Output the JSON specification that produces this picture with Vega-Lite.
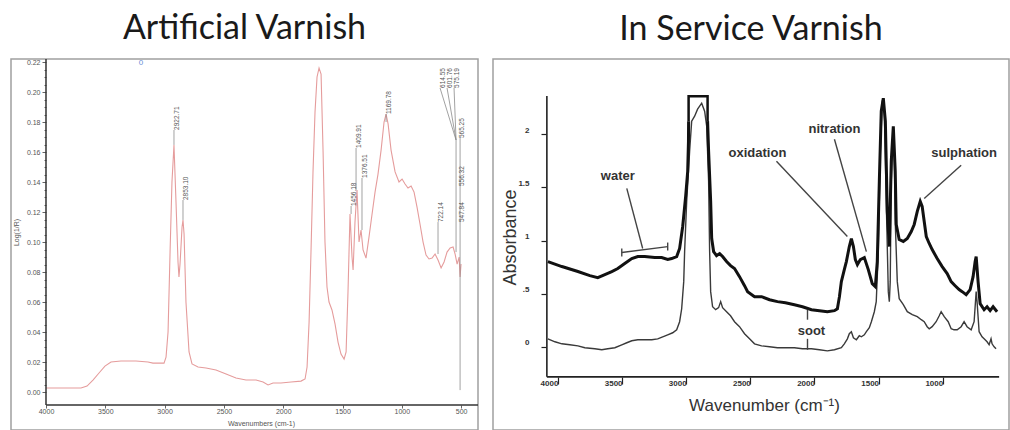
{
"$schema": "https://vega.github.io/schema/vega-lite/v6.json",
"padding": {"left": 10, "top": 11, "right": 5, "bottom": 2},
"config": {"view": {"stroke": "#a0a0a0", "strokeWidth": 1.5}, "concat": {"spacing": 12}, "font": "Liberation Sans", "axis": {"labelOverlap": false, "labelSeparation": 0}},
"datasets": {
"leftSpec": [{"w":4000,"v":0.0027},{"w":3874,"v":0.0027},{"w":3705,"v":0.0027},{"w":3654,"v":0.004},{"w":3604,"v":0.008},{"w":3553,"v":0.0127},{"w":3503,"v":0.0173},{"w":3452,"v":0.02},{"w":3368,"v":0.0207},{"w":3241,"v":0.0207},{"w":3140,"v":0.02},{"w":3098,"v":0.0193},{"w":3005,"v":0.0193},{"w":2988,"v":0.0233},{"w":2971,"v":0.04},{"w":2954,"v":0.0933},{"w":2938,"v":0.14},{"w":2921,"v":0.1647},{"w":2904,"v":0.1267},{"w":2887,"v":0.0867},{"w":2879,"v":0.0767},{"w":2870,"v":0.0853},{"w":2853,"v":0.11},{"w":2845,"v":0.1147},{"w":2836,"v":0.1053},{"w":2820,"v":0.06},{"w":2794,"v":0.0267},{"w":2769,"v":0.0187},{"w":2718,"v":0.0167},{"w":2651,"v":0.016},{"w":2567,"v":0.0147},{"w":2482,"v":0.012},{"w":2398,"v":0.0093},{"w":2314,"v":0.008},{"w":2229,"v":0.008},{"w":2170,"v":0.0067},{"w":2128,"v":0.0047},{"w":2086,"v":0.006},{"w":2019,"v":0.006},{"w":1934,"v":0.0067},{"w":1850,"v":0.0073},{"w":1816,"v":0.0087},{"w":1799,"v":0.0167},{"w":1782,"v":0.0467},{"w":1766,"v":0.0933},{"w":1749,"v":0.1467},{"w":1732,"v":0.1867},{"w":1715,"v":0.21},{"w":1698,"v":0.216},{"w":1681,"v":0.212},{"w":1664,"v":0.16},{"w":1648,"v":0.1},{"w":1631,"v":0.07},{"w":1614,"v":0.06},{"w":1589,"v":0.0547},{"w":1563,"v":0.0453},{"w":1538,"v":0.0333},{"w":1513,"v":0.0253},{"w":1487,"v":0.022},{"w":1470,"v":0.0267},{"w":1454,"v":0.0667},{"w":1437,"v":0.1187},{"w":1420,"v":0.09},{"w":1411,"v":0.0813},{"w":1395,"v":0.1133},{"w":1378,"v":0.1347},{"w":1361,"v":0.1},{"w":1344,"v":0.108},{"w":1327,"v":0.0947},{"w":1302,"v":0.0893},{"w":1277,"v":0.1033},{"w":1251,"v":0.1187},{"w":1226,"v":0.1333},{"w":1201,"v":0.1453},{"w":1175,"v":0.1613},{"w":1150,"v":0.18},{"w":1133,"v":0.1853},{"w":1116,"v":0.1787},{"w":1091,"v":0.1613},{"w":1057,"v":0.1467},{"w":1024,"v":0.14},{"w":998,"v":0.142},{"w":973,"v":0.1387},{"w":948,"v":0.136},{"w":922,"v":0.1373},{"w":897,"v":0.1333},{"w":872,"v":0.1233},{"w":847,"v":0.112},{"w":821,"v":0.1},{"w":796,"v":0.0913},{"w":771,"v":0.0887},{"w":745,"v":0.0893},{"w":720,"v":0.092},{"w":695,"v":0.088},{"w":669,"v":0.0827},{"w":644,"v":0.0867},{"w":619,"v":0.0933},{"w":593,"v":0.096},{"w":568,"v":0.0967},{"w":551,"v":0.092},{"w":534,"v":0.0853},{"w":517,"v":0.09},{"w":509,"v":0.0767},{"w":501,"v":0.0853}],
"leftLabels": [{"w":2921,"v":0.1747,"t":"2922.71"},{"w":2845,"v":0.128,"t":"2853.10"},{"w":1428,"v":0.124,"t":"1456.18"},{"w":1386,"v":0.1627,"t":"1409.91"},{"w":1336,"v":0.1427,"t":"1376.51"},{"w":1133,"v":0.1853,"t":"1169.78"},{"w":695,"v":0.1133,"t":"722.14"},{"w":678,"v":0.2027,"t":"614.55"},{"w":619,"v":0.2027,"t":"601.76"},{"w":560,"v":0.2027,"t":"575.19"},{"w":518,"v":0.1693,"t":"565.25"},{"w":518,"v":0.1373,"t":"556.32"},{"w":518,"v":0.1133,"t":"547.84"}],
"leftRules": [{"w":2921,"v":0.1747,"w2":2921,"v2":0.1647},{"w":2845,"v":0.128,"w2":2845,"v2":0.1147},{"w":1428,"v":0.124,"w2":1428,"v2":0.1187},{"w":1386,"v":0.1627,"w2":1386,"v2":0.1347},{"w":1336,"v":0.1427,"w2":1336,"v2":0.108},{"w":1133,"v":0.1853,"w2":1133,"v2":0.18},{"w":695,"v":0.1133,"w2":695,"v2":0.092},{"w":678,"v":0.2027,"w2":543,"v2":0.168},{"w":619,"v":0.2027,"w2":543,"v2":0.168},{"w":560,"v":0.2027,"w2":543,"v2":0.168},{"w":543,"v":0.168,"w2":543,"v2":0.0933},{"w":509,"v":0.1693,"w2":509,"v2":0.0013}],
"leftAxes": [{"w":4000,"v":-0.0087,"w2":4000,"v2":0.222},{"w":4000,"v":-0.0087,"w2":358,"v2":-0.0087}],
"leftMisc": [{"w":3199,"v":0.2193,"t":"0"}],
"rThin": [{"w":4078,"v":0.075},{"w":4023,"v":0.047},{"w":3969,"v":0.028},{"w":3907,"v":0.019},{"w":3844,"v":0.009},{"w":3790,"v":-0.009},{"w":3712,"v":-0.019},{"w":3658,"v":-0.028},{"w":3611,"v":-0.019},{"w":3556,"v":-0.009},{"w":3502,"v":0.019},{"w":3463,"v":0.038},{"w":3424,"v":0.057},{"w":3377,"v":0.066},{"w":3323,"v":0.066},{"w":3268,"v":0.066},{"w":3222,"v":0.075},{"w":3183,"v":0.094},{"w":3144,"v":0.113},{"w":3105,"v":0.132},{"w":3074,"v":0.16},{"w":3051,"v":0.236},{"w":3035,"v":0.358},{"w":3019,"v":0.613},{"w":3012,"v":0.896},{"w":2996,"v":1.368},{"w":2973,"v":1.84},{"w":2957,"v":2.123},{"w":2934,"v":2.17},{"w":2911,"v":2.236},{"w":2879,"v":2.292},{"w":2856,"v":2.217},{"w":2840,"v":2.075},{"w":2825,"v":1.557},{"w":2817,"v":0.896},{"w":2809,"v":0.519},{"w":2794,"v":0.377},{"w":2770,"v":0.349},{"w":2747,"v":0.368},{"w":2731,"v":0.425},{"w":2716,"v":0.368},{"w":2685,"v":0.33},{"w":2654,"v":0.292},{"w":2623,"v":0.236},{"w":2584,"v":0.189},{"w":2545,"v":0.123},{"w":2506,"v":0.075},{"w":2467,"v":0.028},{"w":2412,"v":0.009},{"w":2350,"v":0},{"w":2288,"v":-0.009},{"w":2226,"v":-0.009},{"w":2156,"v":-0.009},{"w":2093,"v":-0.019},{"w":2023,"v":-0.019},{"w":1961,"v":-0.028},{"w":1899,"v":-0.038},{"w":1844,"v":-0.028},{"w":1790,"v":-0.009},{"w":1767,"v":0.028},{"w":1743,"v":0.075},{"w":1728,"v":0.123},{"w":1712,"v":0.142},{"w":1696,"v":0.085},{"w":1673,"v":0.066},{"w":1650,"v":0.104},{"w":1634,"v":0.094},{"w":1611,"v":0.113},{"w":1595,"v":0.142},{"w":1572,"v":0.179},{"w":1556,"v":0.236},{"w":1533,"v":0.33},{"w":1518,"v":0.425},{"w":1502,"v":0.896},{"w":1486,"v":1.84},{"w":1471,"v":2.311},{"w":1463,"v":2.34},{"w":1455,"v":2.217},{"w":1440,"v":1.368},{"w":1424,"v":0.519},{"w":1416,"v":0.425},{"w":1409,"v":0.613},{"w":1401,"v":1.557},{"w":1385,"v":2.047},{"w":1377,"v":1.84},{"w":1370,"v":1.179},{"w":1354,"v":0.613},{"w":1339,"v":0.453},{"w":1307,"v":0.396},{"w":1276,"v":0.33},{"w":1237,"v":0.302},{"w":1198,"v":0.283},{"w":1167,"v":0.255},{"w":1144,"v":0.236},{"w":1121,"v":0.189},{"w":1105,"v":0.17},{"w":1082,"v":0.189},{"w":1051,"v":0.236},{"w":1027,"v":0.292},{"w":1012,"v":0.33},{"w":988,"v":0.283},{"w":957,"v":0.236},{"w":934,"v":0.17},{"w":911,"v":0.16},{"w":887,"v":0.16},{"w":856,"v":0.189},{"w":833,"v":0.236},{"w":810,"v":0.189},{"w":778,"v":0.16},{"w":755,"v":0.236},{"w":739,"v":0.519},{"w":732,"v":0.425},{"w":716,"v":0.142},{"w":693,"v":0.094},{"w":677,"v":0.075},{"w":654,"v":0.047},{"w":638,"v":0.019},{"w":623,"v":0.075},{"w":615,"v":0.028},{"w":599,"v":0},{"w":584,"v":-0.019}],
"rThick": [{"s":"a","w":4078,"v":0.802},{"s":"a","w":3969,"v":0.755},{"s":"a","w":3844,"v":0.708},{"s":"a","w":3751,"v":0.67},{"s":"a","w":3689,"v":0.651},{"s":"a","w":3634,"v":0.679},{"s":"a","w":3580,"v":0.708},{"s":"a","w":3533,"v":0.736},{"s":"a","w":3479,"v":0.783},{"s":"a","w":3424,"v":0.83},{"s":"a","w":3377,"v":0.849},{"s":"a","w":3323,"v":0.849},{"s":"a","w":3245,"v":0.84},{"s":"a","w":3191,"v":0.84},{"s":"a","w":3144,"v":0.821},{"s":"a","w":3113,"v":0.83},{"s":"a","w":3074,"v":0.849},{"s":"a","w":3051,"v":0.925},{"s":"a","w":3027,"v":1.132},{"s":"a","w":3004,"v":1.415},{"s":"a","w":2988,"v":1.651},{"s":"a","w":2982,"v":1.934},{"s":"a","w":2981,"v":2.123},{"s":"b","w":2833,"v":2.123},{"s":"b","w":2825,"v":1.84},{"s":"b","w":2809,"v":1.368},{"s":"b","w":2801,"v":1.019},{"s":"b","w":2786,"v":0.896},{"s":"b","w":2763,"v":0.858},{"s":"b","w":2739,"v":0.877},{"s":"b","w":2716,"v":0.849},{"s":"b","w":2685,"v":0.802},{"s":"b","w":2654,"v":0.764},{"s":"b","w":2623,"v":0.736},{"s":"b","w":2584,"v":0.66},{"s":"b","w":2545,"v":0.575},{"s":"b","w":2521,"v":0.519},{"s":"b","w":2467,"v":0.472},{"s":"b","w":2412,"v":0.472},{"s":"b","w":2350,"v":0.443},{"s":"b","w":2288,"v":0.425},{"s":"b","w":2226,"v":0.415},{"s":"b","w":2156,"v":0.396},{"s":"b","w":2093,"v":0.377},{"s":"b","w":2023,"v":0.349},{"s":"b","w":1961,"v":0.34},{"s":"b","w":1899,"v":0.33},{"s":"b","w":1844,"v":0.34},{"s":"b","w":1821,"v":0.358},{"s":"b","w":1805,"v":0.472},{"s":"b","w":1790,"v":0.613},{"s":"b","w":1767,"v":0.726},{"s":"b","w":1751,"v":0.802},{"s":"b","w":1728,"v":0.943},{"s":"b","w":1712,"v":1.019},{"s":"b","w":1696,"v":0.943},{"s":"b","w":1681,"v":0.821},{"s":"b","w":1665,"v":0.774},{"s":"b","w":1642,"v":0.821},{"s":"b","w":1611,"v":0.84},{"s":"b","w":1580,"v":0.726},{"s":"b","w":1549,"v":0.594},{"s":"b","w":1525,"v":0.566},{"s":"b","w":1510,"v":0.802},{"s":"b","w":1494,"v":1.557},{"s":"b","w":1479,"v":2.217},{"s":"b","w":1463,"v":2.34},{"s":"b","w":1447,"v":2.123},{"s":"b","w":1432,"v":1.274},{"s":"b","w":1416,"v":0.943},{"s":"b","w":1401,"v":1.745},{"s":"b","w":1385,"v":2.075},{"s":"b","w":1370,"v":1.651},{"s":"b","w":1362,"v":1.151},{"s":"b","w":1339,"v":1.009},{"s":"b","w":1307,"v":0.991},{"s":"b","w":1276,"v":1.019},{"s":"b","w":1245,"v":1.085},{"s":"b","w":1222,"v":1.151},{"s":"b","w":1198,"v":1.274},{"s":"b","w":1175,"v":1.368},{"s":"b","w":1160,"v":1.321},{"s":"b","w":1144,"v":1.179},{"s":"b","w":1128,"v":1.038},{"s":"b","w":1105,"v":0.972},{"s":"b","w":1082,"v":0.915},{"s":"b","w":1043,"v":0.83},{"s":"b","w":1004,"v":0.755},{"s":"b","w":965,"v":0.689},{"s":"b","w":934,"v":0.613},{"s":"b","w":903,"v":0.575},{"s":"b","w":872,"v":0.538},{"s":"b","w":848,"v":0.519},{"s":"b","w":817,"v":0.491},{"s":"b","w":786,"v":0.538},{"s":"b","w":763,"v":0.66},{"s":"b","w":747,"v":0.802},{"s":"b","w":739,"v":0.849},{"s":"b","w":724,"v":0.613},{"s":"b","w":708,"v":0.406},{"s":"b","w":677,"v":0.349},{"s":"b","w":654,"v":0.377},{"s":"b","w":630,"v":0.34},{"s":"b","w":607,"v":0.377},{"s":"b","w":576,"v":0.33}],
"rBox": [{"i":1,"w":2981,"v":2.123},{"i":2,"w":2981,"v":2.358},{"i":3,"w":2833,"v":2.358},{"i":4,"w":2833,"v":2.123}],
"rAxes": [{"w":4086,"v":-0.283,"w2":4086,"v2":2.36},{"w":4086,"v":-0.283,"w2":560,"v2":-0.283}],
"rRules": [{"w":3463,"v":1.491,"w2":3339,"v2":0.925},{"w":3502,"v":0.887,"w2":3144,"v2":0.943},{"w":3502,"v":0.849,"w2":3502,"v2":0.925},{"w":3144,"v":0.906,"w2":3144,"v2":0.981},{"w":2296,"v":1.745,"w2":1743,"v2":1.038},{"w":1844,"v":1.953,"w2":1595,"v2":0.896},{"w":856,"v":1.708,"w2":1144,"v2":1.396},{"w":2054,"v":0.349,"w2":2054,"v2":0.255},{"w":2054,"v":0.075,"w2":2054,"v2":-0.028}],
"rText": [{"w":3533,"v":1.604,"t":"water"},{"w":2444,"v":1.821,"t":"oxidation"},{"w":1844,"v":2.047,"t":"nitration"},{"w":833,"v":1.821,"t":"sulphation"},{"w":2023,"v":0.151,"t":"soot"}]
},
"hconcat": [
{
"width": 467, "height": 371,
"title": {"text": "Artificial Varnish", "fontSize": 34, "font": "Lato", "fontWeight": "normal", "color": "#1a1a1a", "offset": 12},
"layer": [
{"data": {"name": "leftSpec"}, "mark": {"type": "line", "color": "#e59c9c", "strokeWidth": 1.1},
 "encoding": {
  "x": {"field": "w", "type": "quantitative", "scale": {"domain": [358, 4295], "reverse": true, "nice": false, "zero": false},
   "axis": {"values": [4000,3500,3000,2500,2000,1500,1000,500], "tickCount": 50, "format": "d", "offset": -25, "domain": false, "grid": false, "tickSize": 3, "tickColor": "#666", "labelFontSize": 7, "labelColor": "#555", "labelBaseline": "middle", "labelPadding": 3, "labelOverlap": false, "labelFlush": false, "title": "Wavenumbers (cm-1)", "titleFontSize": 7, "titleFontWeight": "normal", "titleColor": "#555", "titleX": 250, "titleY": 18, "titleBaseline": "middle", "titleAlign": "center"}},
  "y": {"field": "v", "type": "quantitative", "scale": {"domain": [-0.0253, 0.222], "nice": false, "zero": false},
   "axis": {"values": [0,0.005,0.01,0.015,0.02,0.025,0.03,0.035,0.04,0.045,0.05,0.055,0.06,0.065,0.07,0.075,0.08,0.085,0.09,0.095,0.1,0.105,0.11,0.115,0.12,0.125,0.13,0.135,0.14,0.145,0.15,0.155,0.16,0.165,0.17,0.175,0.18,0.185,0.19,0.195,0.2,0.205,0.21,0.215,0.22], "tickCount": 200, "format": ".2f", "labelExpr": "round(datum.value*1000) % 20 == 0 ? datum.label : ''", "tickSize": {"condition": {"test": "round(datum.value*1000) % 20 == 0", "value": 4}, "value": 2}, "offset": -35, "domain": false, "grid": false, "tickColor": "#666", "labelFontSize": 7, "labelColor": "#555", "labelPadding": 2, "labelOverlap": false, "labelFlush": false, "title": "Log(1/R)", "titleFontSize": 7, "titleFontWeight": "normal", "titleColor": "#555", "titleX": -30, "titleY": 173, "titleAngle": 270, "titleAlign": "center", "titleBaseline": "middle"}}
 }},
{"data": {"name": "leftAxes"}, "mark": {"type": "rule", "color": "#333", "strokeWidth": 1.5},
 "encoding": {"x": {"field": "w", "type": "quantitative"}, "y": {"field": "v", "type": "quantitative"}, "x2": {"field": "w2"}, "y2": {"field": "v2"}}},
{"data": {"name": "leftRules"}, "mark": {"type": "rule", "color": "#8a8a8a", "strokeWidth": 0.8},
 "encoding": {"x": {"field": "w", "type": "quantitative"}, "y": {"field": "v", "type": "quantitative"}, "x2": {"field": "w2"}, "y2": {"field": "v2"}}},
{"data": {"name": "leftLabels"}, "mark": {"type": "text", "angle": 270, "align": "left", "baseline": "top", "fontSize": 6.5, "color": "#555"},
 "encoding": {"x": {"field": "w", "type": "quantitative"}, "y": {"field": "v", "type": "quantitative"}, "text": {"field": "t"}}},
{"data": {"name": "leftMisc"}, "mark": {"type": "text", "fontSize": 8, "color": "#6b8fd6"},
 "encoding": {"x": {"field": "w", "type": "quantitative"}, "y": {"field": "v", "type": "quantitative"}, "text": {"field": "t"}}}
]
},
{
"width": 516, "height": 371,
"title": {"text": "In Service Varnish", "fontSize": 34, "font": "Lato", "fontWeight": "normal", "color": "#1a1a1a", "offset": 12},
"layer": [
{"data": {"name": "rThin"}, "mark": {"type": "line", "color": "#3a3a3a", "strokeWidth": 1.4},
 "encoding": {
  "x": {"field": "w", "type": "quantitative", "scale": {"domain": [483, 4506], "reverse": true, "nice": false, "zero": false},
   "axis": {"values": [4000,3500,3000,2500,2000,1500,1000], "tickCount": 50, "format": "d", "offset": -53, "domain": false, "grid": false, "tickSize": 7, "tickColor": "#222", "tickWidth": 1.2, "labelFontSize": 8, "labelFontWeight": "bold", "labelColor": "#333", "labelAlign": "right", "labelBaseline": "middle", "labelPadding": -1, "labelDx": -2, "labelOverlap": false, "labelFlush": false, "title": "Wavenumber (cm⁻¹)", "titleFontSize": 17, "titleFontWeight": "normal", "titleColor": "#333", "titleX": 271, "titleY": 28, "titleBaseline": "middle", "titleAlign": "center"}},
  "y": {"field": "v", "type": "quantitative", "scale": {"domain": [-0.783, 2.708], "nice": false, "zero": false},
   "axis": {"values": [0,0.5,1,1.5,2], "tickCount": 50, "labelExpr": "datum.value == 0.5 ? '.5' : toString(datum.value)", "offset": -53, "domain": false, "grid": false, "tickSize": 5, "tickColor": "#222", "tickWidth": 1.2, "labelFontSize": 8, "labelFontWeight": "bold", "labelColor": "#333", "labelPadding": 12, "labelBaseline": "bottom", "labelDy": -2, "labelOverlap": false, "labelFlush": false, "title": "Absorbance", "titleFontSize": 18, "titleFontWeight": "normal", "titleColor": "#333", "titleX": -36, "titleY": 178, "titleAngle": 270, "titleAlign": "center", "titleBaseline": "middle"}}
 }},
{"data": {"name": "rThick"}, "mark": {"type": "line", "color": "#111", "strokeWidth": 3},
 "encoding": {"x": {"field": "w", "type": "quantitative"}, "y": {"field": "v", "type": "quantitative"}, "detail": {"field": "s"}}},
{"data": {"name": "rBox"}, "mark": {"type": "line", "color": "#111", "strokeWidth": 2.5},
 "encoding": {"x": {"field": "w", "type": "quantitative"}, "y": {"field": "v", "type": "quantitative"}, "order": {"field": "i"}}},
{"data": {"name": "rAxes"}, "mark": {"type": "rule", "color": "#222", "strokeWidth": 1.6},
 "encoding": {"x": {"field": "w", "type": "quantitative"}, "y": {"field": "v", "type": "quantitative"}, "x2": {"field": "w2"}, "y2": {"field": "v2"}}},
{"data": {"name": "rRules"}, "mark": {"type": "rule", "color": "#444", "strokeWidth": 1.4},
 "encoding": {"x": {"field": "w", "type": "quantitative"}, "y": {"field": "v", "type": "quantitative"}, "x2": {"field": "w2"}, "y2": {"field": "v2"}}},
{"data": {"name": "rText"}, "mark": {"type": "text", "fontSize": 13, "fontWeight": "bold", "color": "#333"},
 "encoding": {"x": {"field": "w", "type": "quantitative"}, "y": {"field": "v", "type": "quantitative"}, "text": {"field": "t"}}}
]
}
]
}
